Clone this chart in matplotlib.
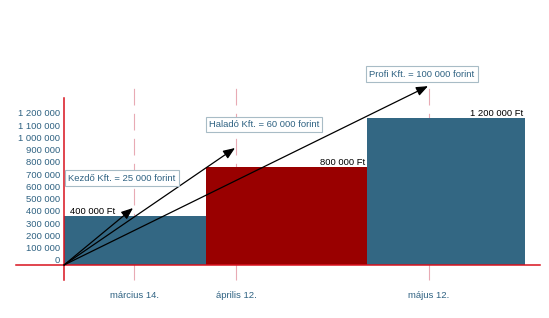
import matplotlib
matplotlib.use("Agg")
import matplotlib.pyplot as plt
from matplotlib.transforms import offset_copy

plt.rcParams['font.family'] = ['Liberation Sans', 'DejaVu Sans']
plt.rcParams['lines.scale_dashes'] = False

# adatok
bar_start = [0, 142, 303]
bar_end = [142, 303, 461]
bar_values = [400000, 800000, 1200000]
bar_labels = ['400 000 Ft', '800 000 Ft', '1 200 000 Ft']
bar_colors = ['#336783', '#990000', '#336783']

date_pos = [70, 172, 365]
date_labels = ['március 14.', 'április 12.', 'május 12.']

arrow_values = [465000, 955000, 1460000]
arrow_labels = ['Kezdő Kft. = 25 000 forint', 'Haladó Kft. = 60 000 forint',
                'Profi Kft. = 100 000 forint']
box_pos = [(58, 710000), (200, 1147000), (358, 1559000)]

yticks = list(range(0, 1200001, 100000))
ytick_labels = ['{:,}'.format(v).replace(',', ' ') for v in yticks]

blue_text = '#2f6282'
axis_red = '#d8121e'
fs = 6.8

fig = plt.figure(figsize=(5.49, 3.18), dpi=100)
ax = fig.add_axes([0, 0, 1, 1])
ax.set_xlim(-64, 485)
upp = 1200000 / 147
ax.set_ylim(-53 * upp, 265 * upp)
ax.axis('off')

# oszlopok
for s, e, v, c in zip(bar_start, bar_end, bar_values, bar_colors):
    ax.bar(s, v, width=e - s, align='edge', color=c, zorder=2)

ax.text(bar_start[0] + 6, bar_values[0], bar_labels[0], fontsize=fs,
        ha='left', va='bottom', zorder=4)
for i in (1, 2):
    ax.text(bar_end[i] - 2, bar_values[i], bar_labels[i], fontsize=fs,
            ha='right', va='bottom', zorder=4)

# szaggatott dátumvonalak
for x in date_pos:
    ax.plot([x, x], [-15 * upp, 178 * upp], color='#e8aab4', lw=0.8,
            linestyle=(0, (12, 6)), zorder=1)
for x, lab in zip(date_pos, date_labels):
    ax.text(x, -30 * upp, lab, fontsize=fs, color=blue_text,
            ha='center', va='center')

# tengelyek
ax.axhline(0, xmin=16 / 549, xmax=540 / 549, color=axis_red, lw=1.1, zorder=3)
ax.axvline(0, ymin=38 / 318, ymax=220 / 318, color=axis_red, lw=1.1, zorder=3)

tr = offset_copy(ax.transData, fig=fig, y=3, units='points')
for v, lab in zip(yticks, ytick_labels):
    ax.text(-4, v, lab, fontsize=fs, color=blue_text, ha='right',
            va='center', transform=tr)

# nyilak
for x, v in zip(date_pos, arrow_values):
    ax.annotate('', xy=(x - 1, v), xytext=(0, 0),
                arrowprops=dict(arrowstyle='-|>,head_length=0.7,head_width=0.28',
                                mutation_scale=10, color='black', lw=0.9,
                                shrinkA=0, shrinkB=0), zorder=5)

for (bx, by), lab in zip(box_pos, arrow_labels):
    ax.text(bx, by, lab, fontsize=fs, color=blue_text, ha='center', va='center',
            bbox=dict(boxstyle='square,pad=0.35', fc='white', ec='#a8bcc6', lw=0.8),
            zorder=6)

fig.savefig('out.png', dpi=100)
